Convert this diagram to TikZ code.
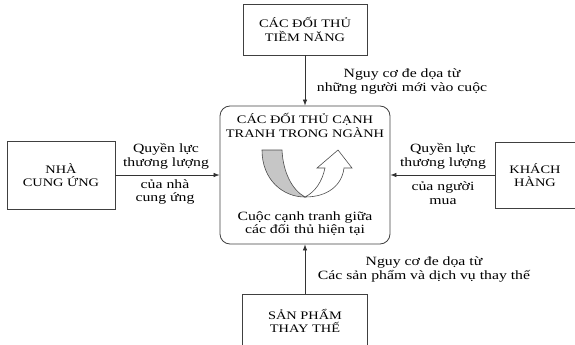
\documentclass[tikz,border=0pt]{standalone}
\usepackage{fontspec}
\setmainfont[FakeStretch=1.25]{Liberation Serif}
\usetikzlibrary{arrows.meta}
\tikzset{
  hop/.style={draw=black!75, line width=0.8pt, align=center, inner sep=0pt},
  nhan/.style={align=center, inner sep=0pt, font=\fontsize{12.6}{13.5}\selectfont},
  noi/.style={draw=black!80, line width=0.7pt, -{Latex[length=6pt,width=4.5pt]}}
}
\begin{document}
\begin{tikzpicture}[x=1pt, y=-1pt, font=\fontsize{11.5}{13.5}\selectfont]
  \useasboundingbox (0,0) rectangle (575,345);
  % 1. Khối trung tâm (bo góc)
  \node[hop, rounded corners=10pt, minimum width=170pt, minimum height=138pt] (trungtam) at (305,175) {};
  \node[nhan, font=\fontsize{11.5}{14}\selectfont] (tieude) at (305,125.5) {CÁC ĐỐI THỦ CẠNH\\TRANH TRONG NGÀNH};
  \node[nhan] (canhtranh) at (305,223.5) {Cuộc cạnh tranh giữa\\các đối thủ hiện tại};
  % 2. Mũi tên chữ U (nửa xám, nửa trắng)
  \draw[black!70, line width=0.6pt, fill=gray!45] (262,150) -- (282,150)
    .. controls (283,172) and (292,190) .. (305,197)
    .. controls (283,197) and (262,180) .. cycle;
  \draw[black!70, line width=0.6pt, fill=white] (305,197)
    .. controls (328,197) and (342,185) .. (344,168) -- (352,168) -- (338,150)
    -- (317,168) -- (325,168) .. controls (322,182) and (315,192) .. cycle;
  % 3. Bốn khối xung quanh
  \node[hop, minimum width=124pt, minimum height=51pt] (doithu) at (305,29.5) {CÁC ĐỐI THỦ\\TIỀM NĂNG};
  \node[hop, minimum width=108pt, minimum height=68pt] (nhacungung) at (61,175) {NHÀ\\CUNG ỨNG};
  \node[hop, minimum width=80pt, minimum height=66pt] (khachhang) at (535,175) {KHÁCH\\HÀNG};
  \node[hop, minimum width=125pt, minimum height=54pt] (sanpham) at (305,321) {SẢN PHẨM\\THAY THẾ};
  % 4. Các mũi tên vào khối trung tâm
  \draw[noi] (doithu) -- (trungtam);
  \draw[noi] (nhacungung) -- (trungtam);
  \draw[noi] (khachhang) -- (trungtam);
  \draw[noi] (sanpham) -- (trungtam);
  % 5. Nhãn của các mũi tên
  \node[nhan] (nguycomoi) at (402,81.5) {Nguy cơ đe dọa từ\\những người mới vào cuộc};
  \node[nhan] (quyenluc1) at (166,156.5) {Quyền lực\\thương lượng};
  \node[nhan] (cuanha) at (165,192) {của nhà\\cung ứng};
  \node[nhan] (quyenluc2) at (443,156.5) {Quyền lực\\thương lượng};
  \node[nhan] (cuanguoi) at (443,193) {của người\\mua};
  \node[nhan] (nguycothay) at (424,269.5) {Nguy cơ đe dọa từ\\Các sản phẩm và dịch vụ thay thế};
\end{tikzpicture}
\end{document}
